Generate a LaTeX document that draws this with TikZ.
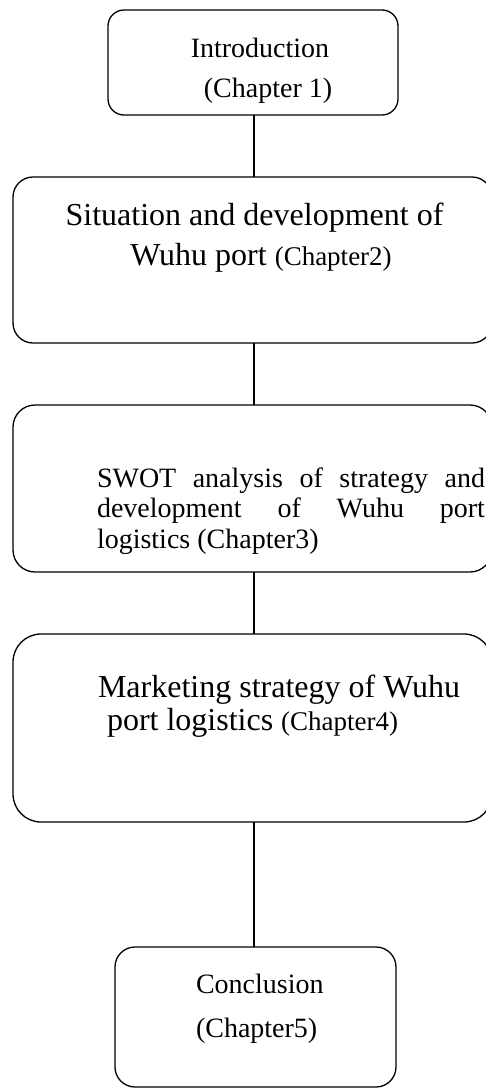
\documentclass[tikz,border=0pt]{standalone}
\usepackage{fontspec}
\setmainfont{Liberation Serif}
\newcommand\fsA{\fontsize{28}{34}\selectfont}
\newcommand\fsB{\fontsize{32}{38}\selectfont}
\newcommand\fsC{\fontsize{27}{32}\selectfont}
\begin{document}
\begin{tikzpicture}[x=1pt,y=-1pt,
  chbox/.style={draw=black, line width=1.3pt, rounded corners=#1, inner sep=0pt, outer sep=0pt},
  txt/.style={inner sep=0pt, outer sep=0pt, text=black},
  conn/.style={draw=black, line width=1.3pt}]
\useasboundingbox (0,0) rectangle (486,1090);
\coordinate (cx) at (254,0);
% boxes
\node[chbox=16pt, minimum width=290pt, minimum height=105pt] (b1) at (253,62.5) {};
\node[chbox=20pt, minimum width=479pt, minimum height=166pt] (b2) at (252.5,260) {};
\node[chbox=22pt, minimum width=479pt, minimum height=167pt] (b3) at (252.5,488.5) {};
\node[chbox=28pt, minimum width=479pt, minimum height=188pt] (b4) at (252.5,728) {};
\node[chbox=20pt, minimum width=281pt, minimum height=140pt] (b5) at (255.5,1017) {};
% texts
\node[txt, anchor=base] (t1a) at (260,57) {\fsA Introduction};
\node[txt, anchor=base] (t1b) at (268,97) {\fsA (Chapter 1)};
\node[txt, anchor=base] (t2a) at (254.5,225) {\fsB Situation and development of};
\node[txt, anchor=base] (t2b) at (261,265) {\fsB Wuhu port \fsC(Chapter2)};
\node[txt, anchor=base west] (t3a) at (97,487) {\fsA\makebox[388pt][s]{SWOT analysis of strategy and}};
\node[txt, anchor=base west] (t3b) at (97,517) {\fsA\makebox[388pt][s]{development of Wuhu port}};
\node[txt, anchor=base west] (t3c) at (97,548) {\fsA logistics (Chapter3)};
\node[txt, anchor=base west] (t4a) at (98,697) {\fsB Marketing strategy of Wuhu};
\node[txt, anchor=base west] (t4b) at (107,730) {\fsB port logistics \fsC(Chapter4)};
\node[txt, anchor=base west] (t5a) at (196,993) {\fsA Conclusion};
\node[txt, anchor=base west] (t5b) at (196,1037) {\fsA (Chapter5)};
% connectors
\draw[conn] (b1.south -| cx) -- (b2.north -| cx);
\draw[conn] (b2.south -| cx) -- (b3.north -| cx);
\draw[conn] (b3.south -| cx) -- (b4.north -| cx);
\draw[conn] (b4.south -| cx) -- (b5.north -| cx);
\end{tikzpicture}
\end{document}
